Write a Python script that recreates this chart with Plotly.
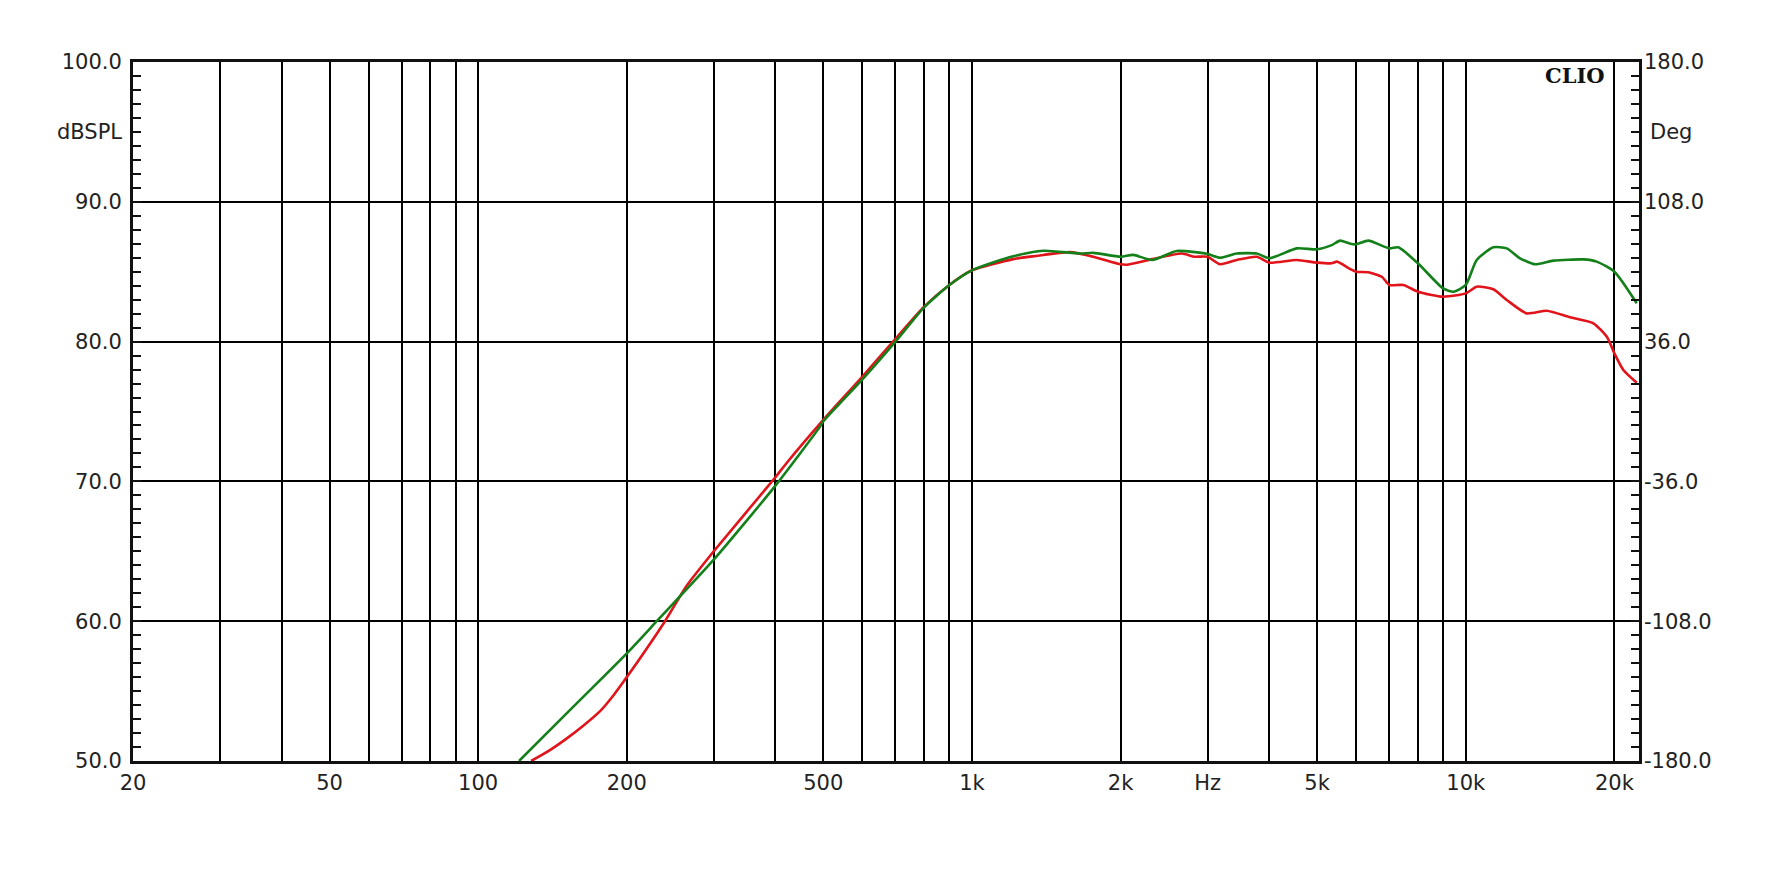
import plotly.graph_objects as go
import math

# ---- data ----
green_freq = [121, 150, 200, 230, 300, 400, 492, 500, 600, 700, 800, 900, 1000, 1212, 1395, 1655, 1761,
              2000, 2121, 2318, 2598, 3000, 3179, 3437, 3773, 4000, 4546, 5000, 5353, 5564, 5837, 6000,
              6348, 7000, 7302, 8000, 9000, 9450, 10000, 10524, 11371, 12105, 12877, 13815, 15047,
              17305, 18422, 20000, 22193]
green_db = [50.0, 53.3, 57.7, 60.0, 64.4, 69.7, 73.9, 74.3, 77.3, 80.0, 82.45, 84.05, 85.1, 86.1, 86.5, 86.3, 86.35,
            86.07, 86.2, 85.84, 86.48, 86.27, 86.0, 86.3, 86.3, 85.96, 86.67, 86.6, 86.9, 87.22, 87.0, 86.96,
            87.22, 86.67, 86.74, 85.6, 83.8, 83.57, 84.05, 85.84, 86.74, 86.67, 85.96, 85.53, 85.79,
            85.88, 85.72, 85.0, 82.74]

red_freq = [128, 140, 151, 163, 177, 188, 200, 239, 264, 300, 400, 421, 500, 600, 700, 800, 900, 1000, 1212,
            1395, 1580, 1761, 2000, 2058, 2318, 2660, 2825, 3000, 3179, 3437, 3773, 4000, 4546, 5000, 5353,
            5486, 5837, 6000, 6348, 6761, 7000, 7474, 8000, 9000, 10000, 10524, 11371, 12105, 13283, 14586,
            16265, 18130, 19310, 20000, 20854, 22193]
red_db = [50.0, 50.8, 51.6, 52.5, 53.6, 54.7, 56.0, 60.0, 62.5, 65.0, 70.3, 71.3, 74.4, 77.5, 80.2, 82.5, 84.05,
          85.1, 85.9, 86.2, 86.4, 86.07, 85.53, 85.5, 85.9, 86.3, 86.07, 86.07, 85.53, 85.84, 86.07, 85.65,
          85.84, 85.65, 85.6, 85.72, 85.19, 85.0, 84.96, 84.64, 84.05, 84.05, 83.57, 83.21, 83.45, 83.93,
          83.74, 82.98, 82.02, 82.21, 81.74, 81.31, 80.35, 79.16, 77.97, 77.06]

x_grid_vals = [20, 30, 40, 50, 60, 70, 80, 90, 100, 200, 300, 400, 500, 600, 700, 800, 900,
               1000, 2000, 3000, 4000, 5000, 6000, 7000, 8000, 9000, 10000, 20000]
x_grid_text = ["20", "", "", "50", "", "", "", "", "100", "200", "", "", "500", "", "", "", "",
               "1k", "2k", "Hz", "", "5k", "", "", "", "", "10k", "20k"]

y_left_vals = [50, 60, 70, 80, 90, 100]
y_left_text = ["50.0", "60.0", "70.0", "80.0", "90.0", "100.0"]
y_right_vals = [-180, -108, -36, 36, 108, 180]
y_right_text = ["-180.0", "-108.0", "-36.0", "36.0", "108.0", "180.0"]

font_main = dict(family="DejaVu Sans, Liberation Sans, sans-serif", size=21, color="#222222")

fig = go.Figure()
fig.add_trace(go.Scatter(x=red_freq, y=red_db, mode="lines",
                         line=dict(color="#e0141a", width=2.6, shape="spline", smoothing=0.6),
                         showlegend=False))
fig.add_trace(go.Scatter(x=green_freq, y=green_db, mode="lines",
                         line=dict(color="#14801a", width=2.6, shape="spline", smoothing=0.6),
                         showlegend=False))
fig.add_trace(go.Scatter(x=[None], y=[None], yaxis="y2", showlegend=False))

fig.update_layout(
    width=1772, height=886,
    margin=dict(l=133, r=133, t=62, b=125),
    paper_bgcolor="white", plot_bgcolor="white",
    font=font_main,
    xaxis=dict(type="log", range=[math.log10(20), math.log10(22430)],
               tickvals=x_grid_vals, ticktext=x_grid_text, ticks="",
               showgrid=True, gridcolor="#000000", gridwidth=1.8,
               showline=True, linecolor="#111111", linewidth=3, mirror=True,
               zeroline=False, tickfont=font_main, ticklabelstandoff=1),
    yaxis=dict(range=[50, 100], tickvals=y_left_vals, ticktext=y_left_text,
               ticks="inside", ticklen=8, tickwidth=1.5, tickcolor="#111111",
               showgrid=True, gridcolor="#000000", gridwidth=1.8,
               showline=True, linecolor="#111111", linewidth=3, mirror=True,
               zeroline=False, tickfont=font_main, ticklabelstandoff=4,
               minor=dict(dtick=1, ticks="inside", ticklen=8, tickwidth=1.5,
                          tickcolor="#111111", showgrid=False)),
    yaxis2=dict(overlaying="y", side="right", range=[-180, 180],
                tickvals=y_right_vals, ticktext=y_right_text,
                ticks="inside", ticklen=8, tickwidth=1.5, tickcolor="#111111",
                showgrid=False, zeroline=False, showline=False,
                tickfont=font_main, ticklabelstandoff=4,
                minor=dict(dtick=7.2, tick0=-180, ticks="inside", ticklen=8, tickwidth=1.5,
                           tickcolor="#111111", showgrid=False)),
    annotations=[
        dict(text="dBSPL", xref="paper", yref="y", x=0, y=95, xanchor="right", yanchor="middle",
             xshift=-9, showarrow=False, font=font_main),
        dict(text="Deg", xref="paper", yref="y", x=1, y=95, xanchor="left", yanchor="middle",
             xshift=9, showarrow=False, font=font_main),
        dict(text="<b>CLIO</b>", xref="paper", yref="paper", x=0.979, y=0.981,
             xanchor="right", yanchor="middle", showarrow=False,
             font=dict(family="DejaVu Serif, Liberation Serif, serif", size=21, color="#111111")),
    ],
)

fig.write_html("out.html", config={"displayModeBar": False},
               post_script="document.body.style.margin='0';document.body.style.overflow='hidden';")
